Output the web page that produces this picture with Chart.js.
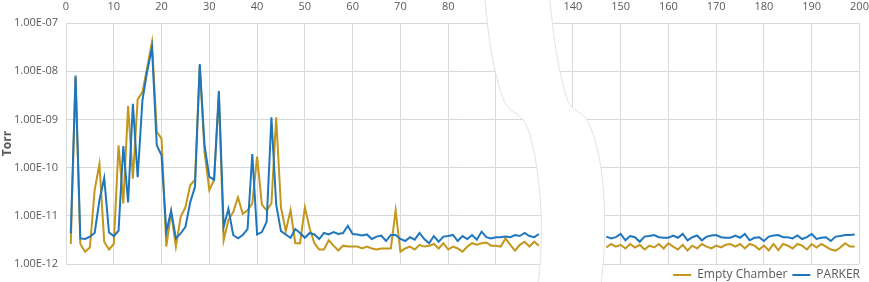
<!DOCTYPE html>
<html>
<head>
<meta charset="utf-8">
<script src="https://cdn.jsdelivr.net/npm/chart.js@4/dist/chart.umd.min.js"></script>
<style>
  html, body { margin: 0; padding: 0; background: #fff; }
  #wrap { width: 869px; height: 282px; position: relative; }
</style>
</head>
<body>
<div id="wrap"><canvas id="lineChart"></canvas></div>
<script>
// Sample number (x) for each segment of the broken axis
const xLeft = [1,2,3,4,5,6,7,8,9,10,11,12,13,14,15,16,17,18,19,20,21,22,23,24,25,26,27,28,29,30,
  31,32,33,34,35,36,37,38,39,40,41,42,43,44,45,46,47,48,49,50,51,52,53,54,55,56,57,58,59,60,
  61,62,63,64,65,66,67,68,69,70,71,72,73,74,75,76,77,78,79,80,81,82,83,84,85,86,87,88,89,90,
  91,92,93,94,95,96,97,98,99];
const xRight = [147,148,149,150,151,152,153,154,155,156,157,158,159,160,161,162,163,164,165,166,
  167,168,169,170,171,172,173,174,175,176,177,178,179,180,181,182,183,184,185,186,187,188,189,190,
  191,192,193,194,195,196,197,198,199];

// Pressure values in units of 1E-12 Torr
const emptyLeft = [2.6,7500,2.6,1.8,2.2,34,120,2.9,2.0,2.6,290,18,1900,59,2600,3700,12000,40000,550,400,
  2.3,12,2.3,9.5,15,43,56,13000,210,34,56,3100,3.1,8.2,12,24,11,13,18,170,
  17,13,18,1100,15,4.8,13,2.7,2.7,15,5.5,2.7,2.0,2.0,3.1,2.4,1.9,2.4,2.3,2.3,
  2.3,2.1,2.3,2.1,2.0,2.1,2.1,2.1,13,1.8,2.1,2.3,2.0,2.5,2.3,2.4,2.6,2.1,2.7,2.0,
  2.3,2.1,1.8,2.3,2.7,2.5,2.7,2.8,2.4,2.4,2.3,3.4,2.5,1.9,2.5,2.9,2.3,2.9,2.4];
const parkerLeft = [4.3,8100,3.4,3.3,3.7,4.4,21,61,4.5,3.8,4.9,280,19,2100,63,2500,10000,31000,290,180,
  4.6,12.6,3.4,4.3,5.9,19,40,14000,290,64,56,3900,5.9,14,4.0,3.4,4.0,5.3,190,4.1,
  4.6,7.5,1100,17,4.8,4.1,3.5,5.3,4.4,3.5,4.4,4.1,3.3,4.4,4.1,4.6,4.2,4.4,6.2,4.2,
  4.1,3.9,4.1,3.3,3.7,3.9,3.0,4.0,4.0,3.3,3.0,3.6,3.2,4.4,3.3,2.7,3.8,2.9,3.7,3.8,
  4.0,3.0,3.8,3.3,4.0,3.2,4.7,3.6,3.4,3.6,3.6,3.7,3.6,4.0,3.8,4.4,3.8,3.6,4.2];
const emptyRight = [2.2,2.6,2.3,2.5,2.1,2.6,2.2,2.5,2.0,2.4,2.2,2.6,2.1,2.7,2.3,2.0,2.5,1.9,2.4,2.1,
  2.6,2.3,2.1,2.4,2.2,2.5,2.6,2.3,2.6,2.1,2.6,2.4,2.0,2.4,1.9,2.6,1.95,2.6,2.4,2.1,
  2.6,2.4,2.0,2.6,2.2,2.6,2.3,2.0,1.9,2.2,2.7,2.3,2.3];
const parkerRight = [3.7,3.4,3.6,4.2,3.1,3.8,3.6,2.9,3.7,3.8,4.0,3.6,3.5,3.5,3.9,3.5,4.2,3.1,3.6,3.9,
  3.1,3.7,3.9,4.0,3.6,3.5,3.5,3.9,3.5,4.2,3.1,3.5,3.6,3.0,3.7,3.9,4.0,3.6,3.6,3.4,
  3.9,3.3,3.6,4.2,3.3,3.5,3.6,3.0,3.7,3.8,4.0,4.0,4.1];

const xTickLabels = [0,10,20,30,40,50,60,70,80,90,140,150,160,170,180,190,200];
const yTickValues = [1e-12,1e-11,1e-10,1e-9,1e-8,1e-7];

// Axis break: samples 100..~134 are cut out of the horizontal axis
const breakStart = 100;
const breakGap = 33.9;
const mapX = x => (x <= breakStart ? x : x - breakGap);
const unmapX = v => (v <= breakStart ? v : Math.round(v + breakGap));

function toPoints(xs, vals) {
  return xs.map((x, i) => ({ x: mapX(x), y: vals[i] * 1e-12 }));
}

const gridColor = '#d9d9d9';
const textColor = '#595959';

// white wavy band covering the cut (offsets relative to the x=100 pixel)
const leftEdge = [[-59,-2],[-56,30],[-50,67],[-41,100],[-34,110],[-26,114],[-18,122],[-12,140],[-7,165],[-3,200],[-2,235],[-4,270],[-6,285]];
const rightEdge = [[6,-2],[9,30],[15,67],[23,100],[29,109],[38,113],[46,124],[53,145],[58,170],[61,205],[61,240],[59,270],[57,285]];

function tracePath(ctx, pts, start) {
  if (start) ctx.moveTo(pts[0][0], pts[0][1]); else ctx.lineTo(pts[0][0], pts[0][1]);
  for (let i = 1; i < pts.length - 1; i++) {
    const mx = (pts[i][0] + pts[i + 1][0]) / 2;
    const my = (pts[i][1] + pts[i + 1][1]) / 2;
    ctx.quadraticCurveTo(pts[i][0], pts[i][1], mx, my);
  }
  const last = pts[pts.length - 1];
  ctx.lineTo(last[0], last[1]);
}

const axisBreak = {
  id: 'axisBreak',
  afterDraw(chart) {
    const ctx = chart.ctx;
    const base = chart.scales.x.getPixelForValue(mapX(breakStart));
    const l = leftEdge.map(p => [base + p[0], p[1]]);
    const r = rightEdge.map(p => [base + p[0], p[1]]);
    ctx.save();
    ctx.beginPath();
    tracePath(ctx, l, true);
    tracePath(ctx, r.slice().reverse(), false);
    ctx.closePath();
    ctx.fillStyle = '#ffffff';
    ctx.fill();
    ctx.strokeStyle = '#e2e2e2';
    ctx.lineWidth = 1;
    ctx.beginPath();
    tracePath(ctx, l, true);
    ctx.stroke();
    ctx.beginPath();
    tracePath(ctx, r, true);
    ctx.stroke();
    ctx.restore();
  }
};

const ctx = document.getElementById('lineChart').getContext('2d');
const lineChart = new Chart(ctx, {
  type: 'line',
  data: {
    datasets: [
      {
        label: 'Empty Chamber',
        data: toPoints(xLeft, emptyLeft).concat([{ x: NaN, y: null }], toPoints(xRight, emptyRight)),
        borderColor: '#c4961c',
        backgroundColor: '#c4961c',
        borderWidth: 2,
        pointRadius: 0,
        tension: 0,
        spanGaps: false,
        order: 1
      },
      {
        label: 'PARKER',
        data: toPoints(xLeft, parkerLeft).concat([{ x: NaN, y: null }], toPoints(xRight, parkerRight)),
        borderColor: '#1f76bc',
        backgroundColor: '#1f76bc',
        borderWidth: 2,
        pointRadius: 0,
        tension: 0,
        spanGaps: false,
        order: 0
      }
    ]
  },
  options: {
    responsive: true,
    maintainAspectRatio: false,
    animation: false,
    layout: { padding: { left: 0, right: 4, top: 0, bottom: 0 } },
    plugins: {
      tooltip: { enabled: false },
      legend: {
        position: 'bottom',
        align: 'end',
        maxHeight: 18,
        labels: {
          usePointStyle: true,
          pointStyle: 'line',
          pointStyleWidth: 18,
          padding: 5,
          color: textColor,
          font: { family: 'Open Sans', size: 12 },
          sort: (a, b) => a.datasetIndex - b.datasetIndex
        }
      }
    },
    scales: {
      x: {
        type: 'linear',
        position: 'top',
        min: 0,
        max: mapX(200),
        afterBuildTicks: scale => {
          scale.ticks = xTickLabels.map(v => ({ value: mapX(v) }));
        },
        afterFit: scale => {
          scale.height = 23;
          scale.paddingRight = 9.5;
        },
        grid: { color: gridColor, drawTicks: false },
        border: { color: gridColor },
        ticks: {
          autoSkip: false,
          maxRotation: 0,
          padding: 10,
          color: textColor,
          font: { family: 'Open Sans', size: 11 },
          callback: v => unmapX(v)
        }
      },
      y: {
        type: 'logarithmic',
        min: 1e-12,
        max: 1e-7,
        afterBuildTicks: scale => {
          scale.ticks = yTickValues.map(v => ({ value: v }));
        },
        afterFit: scale => {
          scale.width = 66;
        },
        grid: { color: gridColor, drawTicks: false },
        border: { color: gridColor },
        title: {
          display: true,
          text: 'Torr',
          color: textColor,
          font: { family: 'Open Sans', size: 12, weight: 'bold' },
          padding: { top: 0, bottom: 0 }
        },
        ticks: {
          padding: 8,
          color: textColor,
          font: { family: 'Open Sans', size: 11 },
          callback: v => '1.00E-' + String(Math.round(-Math.log10(v))).padStart(2, '0')
        }
      }
    }
  },
  plugins: [axisBreak]
});
</script>
</body>
</html>
